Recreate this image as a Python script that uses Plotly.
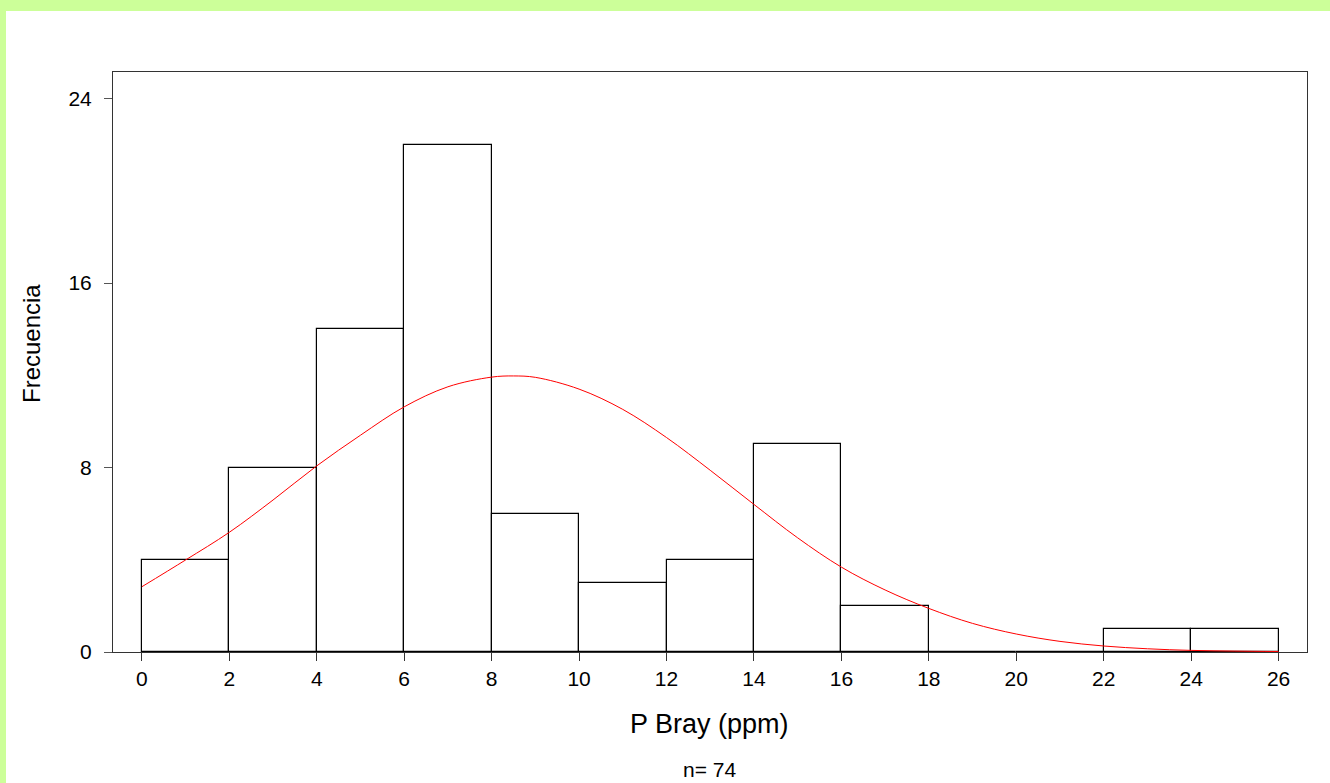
import plotly.graph_objects as go

# Histogram data (bin edges width 2)
bin_starts = [0, 2, 4, 6, 8, 10, 12, 14, 16, 18, 20, 22, 24]
counts = [4, 8, 14, 22, 6, 3, 4, 9, 2, 0, 0, 1, 1]
bin_width = 2

# Fitted normal curve
curve_x = [0, 1, 2, 3, 4, 5, 6, 7, 8, 8.5, 9, 10, 11, 12, 13, 14, 15, 16, 17, 18, 19, 20, 21, 22, 23, 24, 25, 26]
curve_y = [2.83, 3.99, 5.19, 6.59, 8.07, 9.40, 10.63, 11.50, 11.92, 11.97, 11.91, 11.40, 10.52, 9.30,
           7.88, 6.40, 4.95, 3.68, 2.69, 1.89, 1.24, 0.78, 0.46, 0.26, 0.14, 0.07, 0.04, 0.02]

x_ticks = list(range(0, 27, 2))
y_ticks = [0, 8, 16, 24]

FONT = "Liberation Sans, Arial, sans-serif"

W, H = 1330, 783
L, R, T, B = 113, 23, 72, 131
pw = W - L - R
ph = H - T - B

def px_x(p):
    return (p - L) / pw

def px_y(q):
    return (H - B - q) / ph

fig = go.Figure()
fig.add_trace(go.Bar(
    x=[s + bin_width / 2 for s in bin_starts],
    y=counts,
    width=[bin_width] * len(bin_starts),
    marker=dict(color="white", line=dict(color="black", width=1.2)),
    showlegend=False,
))
fig.add_trace(go.Scatter(
    x=curve_x, y=curve_y, mode="lines",
    line=dict(color="red", width=1, shape="spline"),
    showlegend=False,
))

fig.update_layout(
    width=W, height=H,
    margin=dict(l=L, r=R, t=T, b=B, pad=0),
    paper_bgcolor="#CCFF99",
    plot_bgcolor="white",
    bargap=0,
    font=dict(family=FONT, color="black"),
    shapes=[dict(type="rect", xref="paper", yref="paper",
                 x0=px_x(6), x1=px_x(W + 5), y0=px_y(H + 5), y1=px_y(11),
                 fillcolor="white", line=dict(width=0), layer="below")],
    annotations=[
        dict(text="P Bray (ppm)", xref="paper", yref="paper", x=px_x(709), y=px_y(724),
             showarrow=False, font=dict(size=27, family=FONT, color="black"), xanchor="center", yanchor="middle"),
        dict(text="n= 74", xref="paper", yref="paper", x=px_x(709), y=px_y(769),
             showarrow=False, font=dict(size=21, family=FONT, color="black"), xanchor="center", yanchor="middle"),
        dict(text="Frecuencia", xref="paper", yref="paper", x=px_x(31), y=px_y(344),
             showarrow=False, textangle=-90, font=dict(size=24, family=FONT, color="black"),
             xanchor="center", yanchor="middle"),
    ],
)
fig.update_xaxes(
    range=[-0.66, 26.65], tickvals=x_ticks, ticks="outside", ticklen=8, tickcolor="#333",
    showline=True, linecolor="#333", linewidth=1, mirror=True, showgrid=False, zeroline=False,
    tickfont=dict(size=21, family=FONT, color="black"),
)
fig.update_yaxes(
    range=[0, 25.15], tickvals=y_ticks, ticks="outside", ticklen=8, tickcolor="#555",
    showline=True, linecolor="#333", linewidth=1, mirror=True, showgrid=False, zeroline=False,
    tickfont=dict(size=21, family=FONT, color="black"), ticklabelstandoff=8,
)

fig.write_html("out.html", config={"displayModeBar": False},
               post_script="document.body.style.margin='0';")
